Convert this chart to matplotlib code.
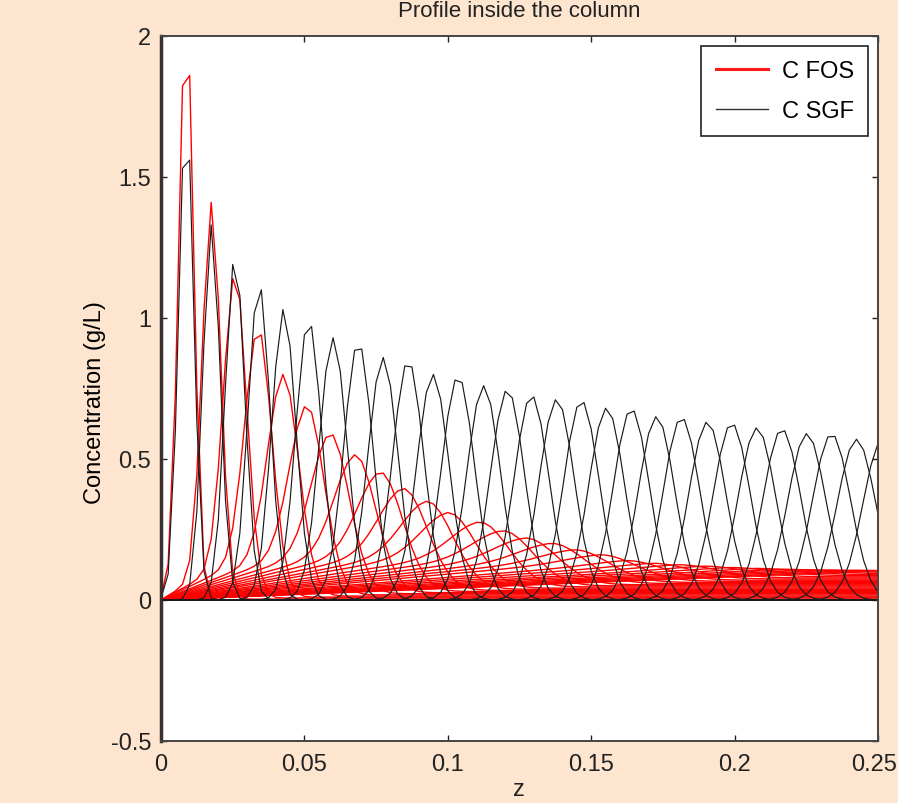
import numpy as np
import matplotlib
matplotlib.use("Agg")
import matplotlib.pyplot as plt
from matplotlib.lines import Line2D
from matplotlib.transforms import ScaledTranslation

# axial grid of the column (coarse, like the original simulation output)
z = np.linspace(0.0, 0.25, 101)

# C SGF (black) - one narrow pulse per time step
sgf_pos = [0.0088, 0.0176, 0.0258, 0.0342, 0.0428, 0.0515, 0.0600, 0.0688, 0.0774, 0.0862,
           0.0948, 0.1036, 0.1125, 0.1208, 0.1292, 0.1380, 0.1466, 0.1554, 0.1640, 0.1728,
           0.1815, 0.1905, 0.1990, 0.2078, 0.2165, 0.2252, 0.2338, 0.2425, 0.2515]
sgf_peak = [1.56, 1.33, 1.19, 1.10, 1.03, 0.97, 0.93, 0.89, 0.86, 0.83,
            0.80, 0.78, 0.76, 0.74, 0.72, 0.71, 0.70, 0.68, 0.67, 0.65,
            0.64, 0.63, 0.62, 0.61, 0.60, 0.59, 0.58, 0.57, 0.555]
sgf_width = [0.0026, 0.0030, 0.0034, 0.0038, 0.0042, 0.0045, 0.0048, 0.0050, 0.0052, 0.0054,
             0.0056, 0.0057, 0.0058, 0.0059, 0.0060, 0.0061, 0.0061, 0.0062, 0.0062, 0.0063,
             0.0063, 0.0064, 0.0064, 0.0065, 0.0065, 0.0066, 0.0066, 0.0067, 0.0067]

# C FOS (red) - decaying humps with a trail back to the inlet and a low level ahead
fos_pos = [0.0088, 0.0176, 0.0258, 0.0339, 0.0426, 0.0508, 0.0590, 0.0677, 0.0764, 0.0844,
           0.0927, 0.1001, 0.1110, 0.1190, 0.1270, 0.1360, 0.1440, 0.1530, 0.1620, 0.1710,
           0.1800, 0.1890, 0.1980, 0.2070, 0.2160, 0.2250, 0.2340, 0.2430, 0.2520]
fos_peak = [1.86, 1.41, 1.14, 0.94, 0.80, 0.685, 0.585, 0.515, 0.45, 0.395,
            0.35, 0.31, 0.275, 0.245, 0.22, 0.20, 0.178, 0.16, 0.14, 0.13,
            0.125, 0.12, 0.115, 0.112, 0.109, 0.107, 0.106, 0.105, 0.104]
fos_width = [0.0026, 0.0032, 0.0040, 0.0047, 0.0054, 0.0060, 0.0066, 0.0072, 0.0078, 0.0084,
             0.0090, 0.0095, 0.0100, 0.0105, 0.0110, 0.0115, 0.0120, 0.0125, 0.0130, 0.0135,
             0.0140, 0.0145, 0.0150, 0.0155, 0.0160, 0.0160, 0.0165, 0.0165, 0.0170]
fos_trail = [0.07, 0.11, 0.14, 0.16, 0.17, 0.178, 0.182, 0.184, 0.184, 0.182,
             0.178, 0.174, 0.168, 0.162, 0.156, 0.15, 0.145, 0.14, 0.13, 0.125,
             0.12, 0.115, 0.112, 0.109, 0.107, 0.106, 0.105, 0.104, 0.103]
fos_ahead = [0.0, 0.003, 0.007, 0.010, 0.014, 0.018, 0.022, 0.026, 0.030, 0.034,
             0.038, 0.042, 0.046, 0.050, 0.054, 0.058, 0.062, 0.066, 0.070, 0.074,
             0.078, 0.082, 0.086, 0.089, 0.092, 0.095, 0.098, 0.100, 0.102]

x_ticks = [0, 0.05, 0.1, 0.15, 0.2, 0.25]
x_ticklabels = ["0", "0.05", "0.1", "0.15", "0.2", "0.25"]
y_ticks = [-0.5, 0, 0.5, 1, 1.5, 2]
y_ticklabels = ["-0.5", "0", "0.5", "1", "1.5", "2"]


def pulse(p, h, s):
    g = np.exp(-0.5 * ((z - p) / s) ** 2)
    return h * g / g.max()


def hump(p, h, s, r, t):
    g = np.exp(-0.5 * ((z - p) / s) ** 2)
    left = r * np.clip(z / p, 0, 1) + (h - r) * g
    right = t + (h - t) * g
    c = np.where(z <= p, left, right)
    return c * h / c.max()


plt.rcParams['font.family'] = ['Liberation Sans', 'DejaVu Sans']
bg = '#fde5cf'

fig = plt.figure(figsize=(8.98, 8.04), dpi=100, facecolor=bg)
ax = fig.add_axes([161/898, 62/804, 717/898, 705/804])
ax.set_facecolor('white')

for p, h, s, r, t in zip(fos_pos, fos_peak, fos_width, fos_trail, fos_ahead):
    ax.plot(z, hump(p, h, s, r, t), color='#ff0000', lw=1.0)
for p, h, s in zip(sgf_pos, sgf_peak, sgf_width):
    ax.plot(z, pulse(p, h, s), color='#1a1a1a', lw=0.85)

ax.set_xlim(0, 0.25)
ax.set_ylim(-0.5, 2)
ax.set_xticks(x_ticks)
ax.set_xticklabels(x_ticklabels)
ax.set_yticks(y_ticks)
ax.set_yticklabels(y_ticklabels)
ax.tick_params(direction='in', length=4, width=1, top=True, right=True,
               labelsize=17, colors='#222222')
ax.tick_params(axis='x', pad=9)
ax.tick_params(axis='y', pad=7)

# last x label would run past the right edge of the figure; nudge it left
last = ax.get_xticklabels()[-1]
last.set_transform(last.get_transform() + ScaledTranslation(-4/100, 0, fig.dpi_scale_trans))

for side in ['top', 'right', 'bottom']:
    ax.spines[side].set_linewidth(1.4)
    ax.spines[side].set_color('#444444')
ax.spines['left'].set_linewidth(2.5)
ax.spines['left'].set_color('#3a3030')

ax.set_ylabel("Concentration (g/L)", fontsize=17)
ax.yaxis.set_label_coords(-55/717, 0.482)

# title and x label sit right at the edges of the original screenshot
fig.text(519/898, (804 - 17)/804, "Profile inside the column", ha='center', va='baseline',
         fontsize=16, color='#222222')
fig.text(519/898, 3/804, "z", ha='center', va='bottom', fontsize=17, color='#222222')

handles = [Line2D([], [], color='#ff1a1a', lw=2.2),
           Line2D([], [], color='#333333', lw=1.0)]
leg = ax.legend(handles, ["C FOS", "C SGF"], loc='upper right',
                bbox_to_anchor=(707/717, 695/705), borderaxespad=0,
                fontsize=17, handlelength=2.2, handletextpad=0.6,
                labelspacing=0.75, fancybox=False, framealpha=1,
                borderpad=0.6)
leg.get_frame().set_edgecolor('#222222')
leg.get_frame().set_linewidth(1.2)

fig.savefig("out.png", dpi=100, facecolor=bg)
